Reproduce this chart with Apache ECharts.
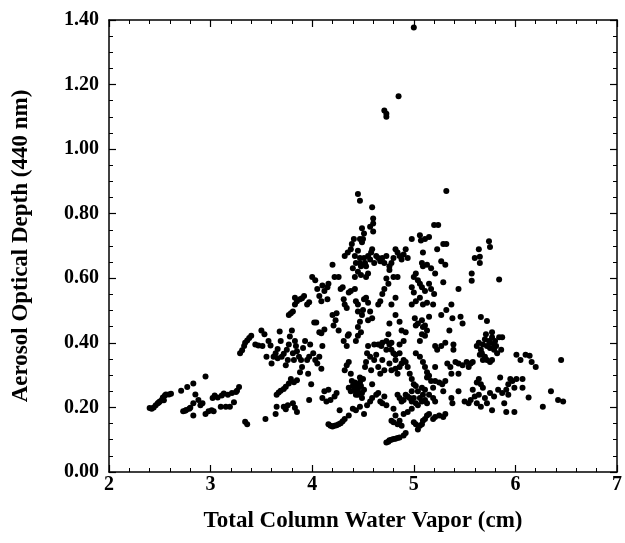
<!DOCTYPE html>
<html>
<head>
<meta charset="utf-8">
<script src="https://cdn.jsdelivr.net/npm/echarts@6/dist/echarts.min.js"></script>
<style>
html,body{margin:0;padding:0;background:#fff;}
#chart{width:625px;height:543px;}
</style>
</head>
<body>
<div id="chart"></div>
<script>
// Tick labels
var xTicks = [2, 3, 4, 5, 6, 7];
var yTicks = ["0.00", "0.20", "0.40", "0.60", "0.80", "1.00", "1.20", "1.40"];

// Data: [water vapor (cm), AOD 440 nm]
var groupLeft = [
 [2.40,0.198],[2.42,0.196],[2.44,0.20],[2.46,0.207],[2.48,0.213],[2.49,0.215],[2.50,0.218],[2.52,0.223],[2.54,0.222],[2.53,0.231],[2.55,0.237],[2.56,0.24],[2.59,0.24],[2.61,0.242],
 [2.71,0.252],[2.77,0.263],[2.83,0.274],[2.95,0.296],
 [2.73,0.188],[2.75,0.19],[2.76,0.192],[2.79,0.196],[2.80,0.199],[2.83,0.175],[2.83,0.213],[2.85,0.24],[2.88,0.223],[2.90,0.207],[2.92,0.213],[2.95,0.18],[2.98,0.188],[3.01,0.191],[3.03,0.188],[3.02,0.229],[3.04,0.237],[3.07,0.231],[3.10,0.202],[3.11,0.237],[3.13,0.243],[3.15,0.202],[3.17,0.239],[3.19,0.202],[3.21,0.245],[3.23,0.216],[3.25,0.248],[3.26,0.252],[3.28,0.263],
 [3.34,0.156],[3.36,0.148],[3.54,0.164]
];
var groupMid = [
 [3.29,0.368],[3.31,0.377],[3.33,0.39],[3.34,0.40],[3.36,0.407],[3.38,0.415],[3.40,0.422],[3.44,0.395],[3.47,0.392],[3.50,0.438],[3.51,0.39],[3.53,0.427],[3.55,0.357],[3.57,0.406],[3.59,0.392],
 [3.60,0.336],[3.62,0.357],[3.64,0.368],[3.66,0.381],[3.68,0.435],[3.69,0.406],[3.70,0.357],[3.72,0.366],[3.74,0.331],[3.75,0.379],[3.77,0.395],[3.78,0.42],[3.80,0.438],[3.81,0.368],[3.82,0.347],[3.84,0.39],[3.85,0.374],[3.87,0.357],[3.88,0.309],[3.90,0.325],[3.91,0.384],[3.93,0.406],[3.95,0.347],[3.96,0.304],[3.98,0.395],[3.99,0.272],[4.01,0.368],[4.03,0.347],[4.05,0.336],[4.07,0.357],[4.09,0.32],[4.10,0.39],
 [3.66,0.352],[3.76,0.347],[3.89,0.347],[3.83,0.406],[3.97,0.357],
 [3.65,0.239],[3.67,0.246],[3.69,0.252],[3.72,0.257],[3.74,0.264],[3.77,0.274],[3.79,0.288],[3.82,0.278],[3.85,0.284],
 [3.64,0.18],[3.65,0.202],[3.72,0.202],[3.74,0.194],[3.76,0.207],[3.81,0.213],[3.83,0.199],[3.85,0.186],
 [3.77,0.486],[3.79,0.492],[3.81,0.497],[3.83,0.519],[3.83,0.54],[3.85,0.529],[3.88,0.535],[3.90,0.538],[3.92,0.545],[3.95,0.519],[3.97,0.526],[4.00,0.604],[4.03,0.594],[4.05,0.567],[4.07,0.545],[4.09,0.529],[4.10,0.578],[4.12,0.561],[4.15,0.572],[4.16,0.583],[4.02,0.463],[4.04,0.463],[4.07,0.433],[4.09,0.43],[4.12,0.441],[4.15,0.535],
 [4.20,0.642],[4.22,0.604],[4.26,0.604],[4.20,0.486],[4.21,0.454],[4.23,0.47],[4.24,0.492],[4.26,0.438],[4.28,0.567],[4.30,0.572],[4.31,0.535],[4.32,0.519],[4.34,0.508],[4.36,0.556],[4.38,0.561],[4.35,0.422],[4.36,0.427],[4.31,0.406],[4.34,0.39],
 [3.97,0.223],[4.10,0.229],[4.12,0.25],[4.16,0.255],[4.18,0.223],[4.22,0.234],[4.24,0.245],[4.27,0.191],[4.14,0.218],
 [4.16,0.148],[4.18,0.143],[4.20,0.141],[4.22,0.143],[4.24,0.145],[4.26,0.148],[4.28,0.151],[4.30,0.157],[4.32,0.164],[4.36,0.175]
];
var groupCentre = [
 [4.32,0.315],[4.34,0.331],[4.36,0.341],[4.38,0.304],[4.39,0.282],[4.40,0.266],[4.42,0.255],[4.43,0.25],[4.43,0.272],[4.45,0.261],[4.45,0.239],[4.47,0.277],[4.47,0.293],[4.49,0.245],[4.49,0.229],[4.50,0.288],[4.51,0.255],[4.52,0.325],[4.53,0.341],[4.54,0.368],[4.55,0.39],[4.57,0.357],[4.58,0.315],[4.59,0.272],
 [4.40,0.196],[4.43,0.191],[4.47,0.202],[4.51,0.18],[4.54,0.207],[4.57,0.218],[4.59,0.229],[4.63,0.239],[4.65,0.245],
 [4.42,0.277],[4.45,0.255],[4.48,0.266],[4.43,0.239],[4.38,0.25],[4.36,0.261],
 [4.61,0.347],[4.63,0.363],[4.65,0.325],[4.67,0.304],[4.69,0.347],[4.71,0.315],[4.73,0.379],[4.68,0.39],[4.61,0.395],[4.65,0.395],[4.69,0.40],[4.73,0.406],[4.76,0.395],[4.78,0.379],[4.80,0.368],[4.82,0.347],[4.76,0.336],[4.78,0.315],[4.82,0.32],[4.86,0.325],[4.84,0.304],[4.88,0.336],[4.90,0.347],
 [4.67,0.218],[4.69,0.213],[4.73,0.207],[4.71,0.234],
 [4.43,0.529],[4.45,0.519],[4.45,0.497],[4.47,0.465],[4.45,0.449],[4.48,0.433],[4.49,0.486],[4.50,0.502],[4.51,0.535],[4.53,0.54],[4.55,0.524],[4.57,0.497],[4.59,0.476],[4.55,0.47],[4.43,0.406],[4.45,0.422],[4.42,0.567],
 [4.32,0.669],[4.35,0.68],[4.38,0.69],[4.39,0.706],[4.41,0.722],[4.42,0.669],[4.43,0.647],[4.45,0.685],[4.47,0.663],[4.47,0.647],[4.48,0.637],[4.49,0.712],[4.50,0.722],[4.51,0.663],[4.52,0.647],[4.53,0.637],[4.55,0.669],[4.57,0.658],[4.58,0.68],[4.59,0.69],[4.61,0.647],[4.63,0.669],[4.65,0.663],[4.67,0.653],[4.69,0.663],[4.71,0.647],[4.73,0.669],[4.76,0.637],[4.42,0.604],[4.45,0.62],[4.48,0.61],[4.53,0.604],[4.55,0.615],[4.40,0.631],[4.57,0.76],[4.49,0.755],[4.51,0.739],[4.47,0.722],
 [4.82,0.69],[4.84,0.68],[4.86,0.669],[4.88,0.658],[4.90,0.674],[4.92,0.69],[4.94,0.663],[4.80,0.663],[4.78,0.647],[4.76,0.626],[4.73,0.599],[4.75,0.583],[4.71,0.567],[4.69,0.551],[4.67,0.529],[4.65,0.519],[4.78,0.519],[4.82,0.54],[4.80,0.604],[4.84,0.604]
];
var groupRightMid = [
 [4.98,0.722],[5.06,0.733],[5.07,0.717],[5.11,0.722],[5.15,0.728],[5.20,0.765],[5.24,0.765],[5.09,0.68],[5.23,0.69],[5.29,0.706],[5.32,0.706],[5.08,0.647],[5.09,0.637],[5.13,0.642],[5.17,0.631],[5.21,0.615],[5.27,0.653],[5.31,0.642],[5.29,0.588],
 [5.00,0.604],[5.02,0.615],[5.04,0.594],[4.98,0.572],[5.00,0.556],[5.06,0.583],[5.08,0.572],[5.11,0.561],[5.15,0.583],[5.17,0.567],[5.20,0.551],[5.19,0.519],[5.13,0.524],[5.09,0.519],[5.02,0.529],[4.98,0.519],[5.06,0.54],
 [5.01,0.476],[5.04,0.46],[5.08,0.47],[5.11,0.454],[5.13,0.438],[5.15,0.481],[5.27,0.486],[5.32,0.502],[5.37,0.519],[5.38,0.476],[5.44,0.567],
 [4.76,0.46],[4.82,0.486],[4.86,0.465],[4.88,0.438],[4.90,0.406],[4.92,0.433],[4.86,0.395],[4.78,0.40],[4.75,0.427],[4.82,0.363],[4.86,0.368],[4.92,0.341],[4.94,0.325],[4.96,0.304],[4.98,0.288],[5.00,0.272],[5.02,0.368],[5.06,0.357],[5.09,0.341],[5.11,0.325],[5.13,0.309],[5.15,0.298],[5.08,0.427],[5.09,0.449],[5.11,0.422],[5.06,0.406],[5.02,0.454],[5.21,0.39],[5.23,0.379],[5.27,0.39],[5.31,0.40],[5.13,0.293],[5.17,0.282],[5.19,0.261],[5.21,0.325],
 [4.84,0.239],[4.86,0.229],[4.88,0.218],[4.90,0.223],[4.92,0.239],[4.94,0.234],[4.96,0.229],[4.98,0.218],[5.00,0.229],[5.02,0.213],[5.04,0.207],[5.06,0.229],[5.08,0.218],[5.09,0.239],[5.11,0.223],[5.13,0.213],[5.15,0.239],[5.19,0.229],[5.21,0.218],[4.98,0.25],[5.02,0.266],[5.04,0.25],[5.08,0.261],[5.11,0.255],
 [4.80,0.196],[4.82,0.175],[4.78,0.159],[4.80,0.154],[4.84,0.148],[4.86,0.159],[4.88,0.143],[4.90,0.18],[4.94,0.186],[4.98,0.196],[5.00,0.154],[5.02,0.148],[5.04,0.132],[5.06,0.143],[5.08,0.148],[5.09,0.159],[5.11,0.164],[5.13,0.175],[5.15,0.18],[5.19,0.164],[5.21,0.17],[5.25,0.175],[5.29,0.17],[5.31,0.18],
 [4.73,0.091],[4.75,0.094],[4.76,0.098],[4.78,0.10],[4.80,0.102],[4.82,0.103],[4.84,0.105],[4.86,0.107],[4.90,0.113],[4.92,0.121]
];
var groupRight = [
 [5.35,0.438],[5.39,0.395],[5.39,0.379],[5.46,0.481],[5.48,0.46],[5.33,0.336],[5.36,0.325],[5.41,0.341],[5.44,0.336],[5.44,0.304],[5.48,0.331],[5.52,0.341],[5.54,0.325],[5.56,0.336],[5.58,0.341],[5.37,0.304],[5.31,0.282],[5.28,0.272],[5.25,0.277],[5.21,0.282],[5.29,0.25],[5.44,0.25],[5.37,0.229],[5.38,0.213],[5.50,0.218],[5.54,0.213],[5.56,0.223],[5.60,0.234],[5.58,0.255],[5.62,0.277],[5.64,0.288],[5.66,0.272],[5.68,0.261],[5.64,0.239],[5.70,0.229],[5.72,0.213],[5.62,0.213],[5.66,0.202],
 [5.62,0.39],[5.64,0.40],[5.66,0.379],[5.67,0.368],[5.68,0.395],[5.70,0.411],[5.71,0.427],[5.72,0.39],[5.74,0.406],[5.75,0.40],[5.75,0.384],[5.77,0.417],[5.77,0.433],[5.79,0.395],[5.79,0.379],[5.80,0.406],[5.81,0.39],[5.82,0.368],[5.84,0.417],[5.86,0.379],[5.87,0.417],[5.68,0.347],[5.72,0.347],[5.75,0.341],[5.77,0.347],[5.65,0.363],[5.70,0.357],
 [5.57,0.615],[5.57,0.592],[5.60,0.663],[5.64,0.69],[5.65,0.667],[5.65,0.647],[5.74,0.715],[5.75,0.697],[5.84,0.596],[5.66,0.48],[5.72,0.468],
 [5.85,0.293],[5.87,0.245],[5.91,0.255],[5.93,0.272],[5.95,0.288],[5.93,0.239],[5.97,0.282],[5.99,0.261],[6.01,0.288],[5.99,0.186],[5.91,0.186],[5.89,0.213],[5.77,0.191],[5.79,0.234],[5.83,0.255],[5.75,0.245],[6.07,0.288],[6.07,0.261],[6.10,0.363],[6.14,0.36],[6.16,0.341],[6.20,0.325],[6.05,0.347],[6.01,0.363],[6.13,0.231],[6.27,0.202],[6.35,0.25],[6.42,0.223],[6.47,0.218],[6.45,0.347]
];
var groupHigh = [
 [5.00,1.377],[4.85,1.164],[4.71,1.12],[4.73,1.11],[4.73,1.10],[4.45,0.861],[4.47,0.84],[4.59,0.82],[5.32,0.87],[4.60,0.785],[4.60,0.77],[4.60,0.745]
];

var allPoints = groupLeft.concat(groupMid, groupCentre, groupRightMid, groupRight, groupHigh);

var FONT = 'Liberation Serif';
var chart = echarts.init(document.getElementById('chart'), null, {renderer: 'canvas'});

function frameAxis(extra) {
  return Object.assign({
    axisLine: {show: true, onZero: false, lineStyle: {color: '#000', width: 1.5}},
    axisTick: {show: true, inside: true, length: 7, lineStyle: {color: '#000', width: 1.2}},
    splitLine: {show: false},
    minorSplitLine: {show: false}
  }, extra);
}

chart.setOption({
  animation: false,
  backgroundColor: '#fff',
  grid: {left: 109, right: 4, top: 20, bottom: 71, containLabel: false},
  xAxis: [
    frameAxis({
      type: 'value', position: 'bottom', min: xTicks[0], max: xTicks[xTicks.length - 1], interval: 1,
      minorTick: {show: true, splitNumber: 5, length: 4, lineStyle: {color: '#000', width: 1}},
      axisLabel: {color: '#000', fontFamily: FONT, fontWeight: 'bold', fontSize: 20, margin: 3},
      name: 'Total Column Water Vapor (cm)', nameLocation: 'middle', nameGap: 38,
      nameTextStyle: {color: '#000', fontFamily: FONT, fontWeight: 'bold', fontSize: 23}
    }),
    frameAxis({
      type: 'value', position: 'top', min: xTicks[0], max: xTicks[xTicks.length - 1], interval: 1,
      minorTick: {show: true, splitNumber: 5, length: 4, lineStyle: {color: '#000', width: 1}},
      axisLabel: {show: false}
    })
  ],
  yAxis: [
    frameAxis({
      type: 'value', position: 'left', min: 0, max: 1.4, interval: 0.2,
      minorTick: {show: true, splitNumber: 4, length: 4, lineStyle: {color: '#000', width: 1}},
      axisLabel: {color: '#000', fontFamily: FONT, fontWeight: 'bold', fontSize: 20, margin: 10,
        formatter: function (v) { return yTicks[Math.round(v / 0.2)]; }},
      name: 'Aerosol Optical Depth (440 nm)', nameLocation: 'middle', nameGap: 76, nameRotate: 90,
      nameTextStyle: {color: '#000', fontFamily: FONT, fontWeight: 'bold', fontSize: 23}
    }),
    frameAxis({
      type: 'value', position: 'right', min: 0, max: 1.4, interval: 0.2,
      minorTick: {show: true, splitNumber: 4, length: 4, lineStyle: {color: '#000', width: 1}},
      axisLabel: {show: false}
    })
  ],
  series: [{
    type: 'scatter',
    xAxisIndex: 0, yAxisIndex: 0,
    data: allPoints,
    symbol: 'circle',
    symbolSize: 6,
    itemStyle: {color: '#000', opacity: 1},
    silent: true
  }]
});
</script>
</body>
</html>
